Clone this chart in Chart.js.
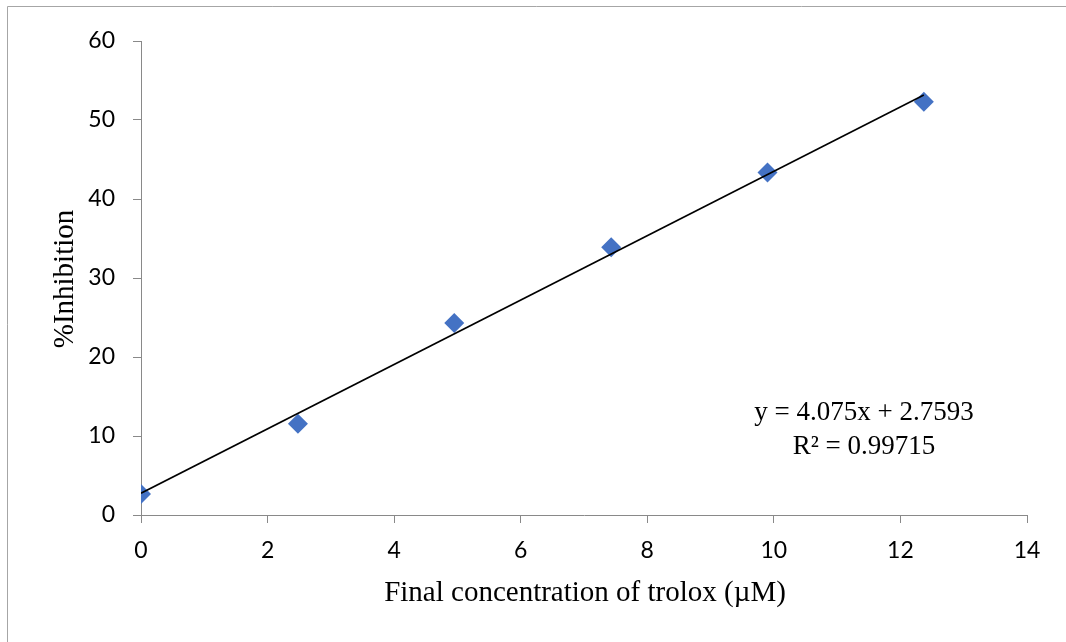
<!DOCTYPE html>
<html>
<head>
<meta charset="utf-8">
<script src="https://cdn.jsdelivr.net/npm/chart.js@4/dist/chart.umd.min.js"></script>
<style>
  html, body { margin: 0; padding: 0; background: #fff; overflow: hidden; }
  #chart { display: block; }
</style>
</head>
<body>
<canvas id="chart" width="1066" height="642"></canvas>
<script>
// Trolox standard curve
const concentrations = [0, 2.48, 4.95, 7.43, 9.9, 12.37];
const inhibition = [2.65, 11.55, 24.3, 33.9, 43.35, 52.3];
const slope = 4.075;
const intercept = 2.7593;
const rSquared = "0.99715";
const xTicks = { min: 0, max: 14, step: 2 };
const yTicks = { min: 0, max: 60, step: 10 };

const AXIS_GREY = "#898989";
const TICK_FONT = { family: "Lato", size: 23 };

const points = concentrations.map((x, i) => ({ x: x, y: inhibition[i] }));
const xEnd = concentrations[concentrations.length - 1];
const trend = [
  { x: 0, y: intercept },
  { x: xEnd, y: slope * xEnd + intercept }
];

// outer chart frame (only left and top edges fall inside the canvas)
const framePlugin = {
  id: "frame",
  beforeDraw(chart) {
    const ctx = chart.ctx;
    ctx.save();
    ctx.strokeStyle = "#a6a6a6";
    ctx.lineWidth = 1;
    ctx.beginPath();
    ctx.moveTo(7.5, chart.height);
    ctx.lineTo(7.5, 6.5);
    ctx.lineTo(chart.width, 6.5);
    ctx.stroke();
    ctx.restore();
  }
};

// axis titles and regression equation
const labelsPlugin = {
  id: "labels",
  afterDraw(chart) {
    const ctx = chart.ctx;
    ctx.save();
    ctx.fillStyle = "#000";
    ctx.textAlign = "center";
    ctx.textBaseline = "middle";
    ctx.font = '29px "Liberation Serif"';
    ctx.fillText("Final concentration of trolox (\u00B5M)", 585, 593);
    ctx.save();
    ctx.translate(65, 279);
    ctx.rotate(-Math.PI / 2);
    ctx.fillText("%Inhibition", 0, 0);
    ctx.restore();
    ctx.font = '27px "Liberation Serif"';
    ctx.fillText("y = " + slope + "x + " + intercept, 864, 413);
    ctx.fillText("R\u00B2 = " + rSquared, 864, 447);
    ctx.restore();
  }
};

new Chart(document.getElementById("chart"), {
  type: "scatter",
  data: {
    datasets: [
      {
        type: "line",
        data: trend,
        borderColor: "#000",
        borderWidth: 1.6,
        pointRadius: 0,
        fill: false
      },
      {
        data: points,
        pointStyle: "rectRot",
        pointRadius: 10,
        pointHoverRadius: 10,
        backgroundColor: "#4472C4",
        borderColor: "#4472C4",
        borderWidth: 0
      }
    ]
  },
  options: {
    responsive: false,
    animation: false,
    layout: { padding: { left: 0, top: 41, right: 39, bottom: 0 } },
    plugins: { legend: { display: false }, tooltip: { enabled: false } },
    scales: {
      x: {
        type: "linear",
        min: xTicks.min,
        max: xTicks.max,
        ticks: { stepSize: xTicks.step, color: "#000", font: TICK_FONT, padding: 14 },
        grid: { drawOnChartArea: false, tickLength: 8, color: AXIS_GREY },
        border: { color: AXIS_GREY },
        afterFit(scale) { scale.height = 127; }
      },
      y: {
        min: yTicks.min,
        max: yTicks.max,
        ticks: { stepSize: yTicks.step, color: "#000", font: TICK_FONT, padding: 18 },
        grid: { drawOnChartArea: false, tickLength: 8, color: AXIS_GREY },
        border: { color: AXIS_GREY },
        afterFit(scale) { scale.width = 141; }
      }
    }
  },
  plugins: [framePlugin, labelsPlugin]
});
</script>
</body>
</html>
